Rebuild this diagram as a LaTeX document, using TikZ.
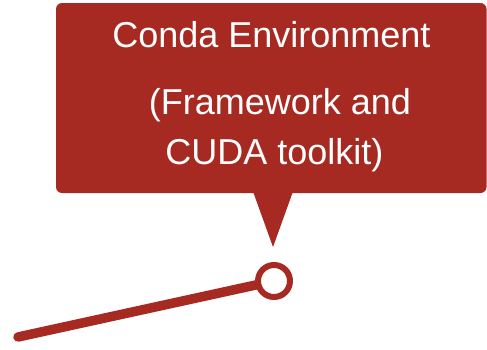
\documentclass[tikz,border=0pt]{standalone}
\usepackage{fontspec}
\setmainfont{Liberation Sans}
\usetikzlibrary{calc}
\definecolor{calloutred}{RGB}{166,42,33}
\tikzset{
  calloutbox/.style={fill=calloutred, rounded corners=6pt, inner sep=0pt,
    minimum width=430.5pt, minimum height=190pt},
  label/.style={text=white, anchor=base, inner sep=0pt,
    font=\fontsize{36}{40}\selectfont},
  ring/.style={circle, draw=calloutred, fill=white, line width=6pt,
    minimum size=32pt, inner sep=0pt},
  stem/.style={draw=calloutred, line width=9.5pt, line cap=round},
}
\begin{document}
\begin{tikzpicture}[x=1pt, y=-1pt]
  \useasboundingbox (0,0) rectangle (487,349);
  % callout body and its pointer
  \node[calloutbox] (env) at (271.25,98) {};
  \coordinate (tip) at (273,247);
  \fill[calloutred] (tip) -- ($(tip)+(-20,-55.5)$) -- ($(tip)+(20,-55.5)$) -- cycle;
  % callout text
  \node[label] (title) at (271.5,47.5) {Conda Environment};
  \node[label] (detailA) at (280,114) {(Framework and};
  \node[label] (detailB) at (274.5,164) {CUDA toolkit)};
  % pin on the end of the stem
  \coordinate (tail) at (18,337);
  \coordinate (pinpos) at (274,281);
  \draw[stem] (tail) -- (pinpos);
  \node[ring] (pin) at (pinpos) {};
\end{tikzpicture}
\end{document}
